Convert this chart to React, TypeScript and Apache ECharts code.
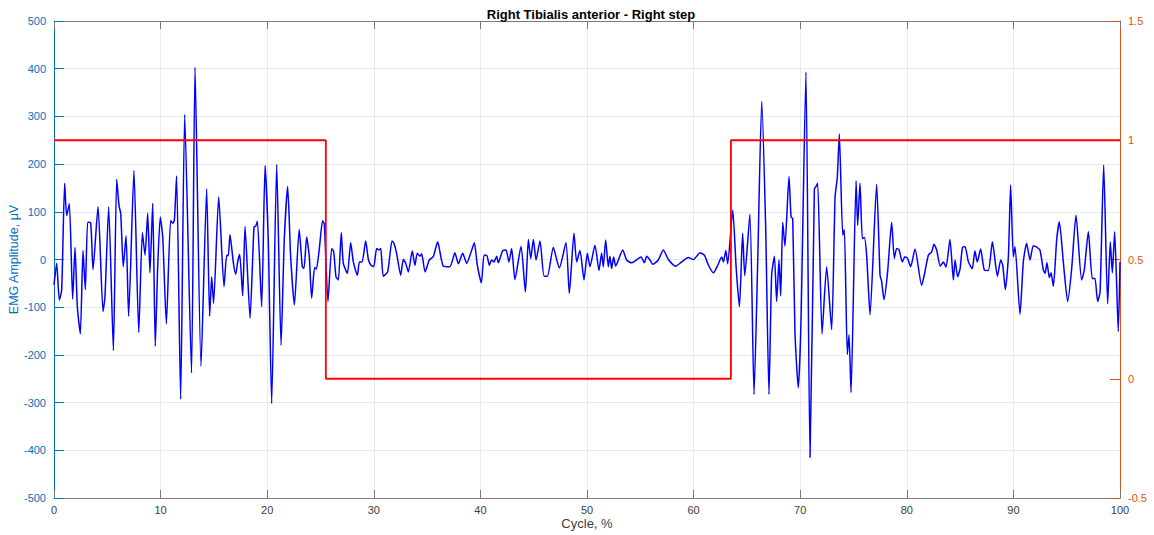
import React, { useEffect, useRef } from "react";
import * as echarts from "echarts";

// EMG trace: [cycle %, amplitude µV]
const emgSamples: [number, number][] = [
  [0, -53], [0.25, -8], [0.5, -85], [0.72, -64], [1.0, 160], [1.19, 92], [1.44, 117], [1.75, -83], [1.97, 25],
  [2.19, -99], [2.47, -156], [2.72, 19], [2.94, -63], [3.16, 78], [3.44, 77], [3.66, -21], [4.13, 111], [4.6, -109],
  [4.78, -78], [5.13, 110], [5.57, -191], [5.88, 168], [6.1, 113], [6.26, 96], [6.5, -15], [6.76, 50], [7.0, -119],
  [7.5, 186], [7.95, -153], [8.29, 56], [8.54, 9], [8.79, 97], [9.0, -28], [9.26, 118], [9.5, -182], [9.73, -14],
  [9.97, 89], [10.2, 47], [10.54, -135], [10.94, 82], [11.13, 76], [11.29, 82], [11.5, 175], [11.88, -293],
  [12.26, 304], [12.9, -238], [13.23, 403],
  [13.79, -224], [14.32, 148], [14.6, -119], [14.79, -36], [14.97, -92], [15.45, 131], [15.95, -57], [16.2, 9],
  [16.35, 8], [16.51, 52], [16.82, -6], [17.05, -31], [17.23, -5], [17.42, 11], [17.7, -76], [17.92, 69],
  [18.39, -123], [18.76, 68], [18.92, 70], [19.08, 80], [19.48, -99], [19.8, 197], [20.1, 39], [20.42, -302],
  [20.89, 199], [21.3, -180], [21.6, 40], [21.92, 153], [22.2, 6], [22.55, -95], [23.0, 63], [23.29, -15],
  [23.45, -19], [23.7, 47], [23.95, 6], [24.17, -81], [24.45, -17], [24.61, -20], [24.89, 23], [25.2, 81],
  [25.36, 74], [25.7, -88], [26.05, 23], [26.24, 16], [26.45, -36], [26.67, -43], [26.95, 56],
  [27.14, -8], [27.52, -29], [27.83, 35], [28.08, -5], [28.46, -33], [28.65, -5], [28.9, -5], [29.24, 39],
  [29.49, 0], [29.74, -12], [29.99, -15], [30.27, 23], [30.49, 20], [30.65, 23], [30.89, -35], [31.3, -26],
  [31.71, 39], [31.89, 34], [32.14, 13], [32.52, -33], [32.77, 0], [32.99, -8], [33.24, -26], [33.61, 18],
  [33.86, -12], [34.08, 13], [34.33, 7], [34.49, 12], [34.81, -26], [35.21, -1], [35.58, 6], [35.99, 37],
  [36.52, -14], [37.14, -15], [37.61, 14], [37.93, -9], [38.34, 13], [38.71, -8], [39.12, 15], [39.43, 35],
  [39.71, -12], [40.09, -49], [40.34, 9], [40.59, 9], [40.84, -12], [41.05, -1], [41.27, -5], [41.53, 7],
  [41.68, -7], [42.08, 18], [42.4, 20], [42.68, -5], [42.93, 23], [43.24, -42], [43.81, 28], [44.22, -68],
  [44.5, 42], [44.72, 2], [44.97, 42], [45.22, -1], [45.59, 39], [45.97, -35], [46.28, -35], [46.84, 25],
  [47.4, -18], [48.03, 35], [48.34, -71], [48.78, 55], [49.03, -5], [49.34, 19], [49.72, -43], [50.03, 13],
  [50.28, -15], [50.75, 30], [51.12, -23], [51.37, 13], [51.53, -15], [51.75, 41], [52.0, -15], [52.15, 7],
  [52.31, -19], [52.5, 5], [52.69, -14], [52.88, -5], [53.35, 20], [53.72, -1], [54.19, -7], [54.57, -2],
  [55.07, 5], [55.38, -7], [55.6, 7], [55.91, -1], [56.16, -10], [56.69, -1], [57.16, 20], [57.63, 0],
  [58.32, -14], [58.88, -5], [59.51, 4], [59.98, 0], [60.61, 14], [61.01, 9], [61.39, -12], [61.86, -28],
  [62.23, -14], [62.64, 5], [62.8, -5], [63.02, 19], [63.2, -9], [63.67, 104], [64.0, -20], [64.3, -99],
  [64.6, 55], [64.8, -34], [65.28, 95],
  [65.67, -283], [66.01, -8], [66.39, 332], [66.76, 68], [67.07, -283], [67.32, -33], [67.58, 7], [67.79, -88],
  [68.01, -1], [68.17, -76], [68.36, 78], [68.57, 28], [68.95, 174], [69.14, 90], [69.3, 85], [69.51, -154],
  [69.82, -269], [70.07, -133], [70.54, 393], [70.92, -415], [71.33, 148], [71.48, 153], [71.64, 160],
  [72.05, -156], [72.48, -15], [72.95, -147], [73.27, 131], [73.48, 172], [73.67, 263], [73.99, 51], [74.14, 63],
  [74.42, -199], [74.58, -158], [74.77, -279], [75.24, 165], [75.39, 72], [75.61, 160], [75.83, 44], [76.02, 46],
  [76.24, 6],
  [76.55, -116], [77.17, 158], [77.49, -33], [77.64, -46], [77.86, -84], [78.2, -26], [78.58, 78], [78.83, 2],
  [79.05, 23], [79.27, 21], [79.58, -5], [79.83, 6], [80.08, 2], [80.36, -15], [80.77, 22], [81.39, -54],
  [81.64, -33], [82.02, 9], [82.33, 16], [82.55, 32], [82.8, 20], [83.14, -14], [83.43, -5], [83.68, -16],
  [84.05, 42], [84.37, -43], [84.53, -1], [84.77, -36], [85.0, -19], [85.22, 25], [85.46, 27], [85.78, -5],
  [86.14, -19], [86.39, 18], [86.61, -5], [86.93, 22], [87.27, -22], [87.65, -23], [88.03, 37], [88.5, -35],
  [88.81, -1], [89.0, -12], [89.24, -63], [89.53, 6], [89.74, 156],
  [89.99, 6], [90.15, 27], [90.62, -115], [90.93, -5], [91.24, 34], [91.56, -1], [91.87, 29], [92.18, 26],
  [92.49, 20], [92.81, -22], [92.97, -29], [93.15, -7], [93.37, -38], [93.53, -28], [93.75, -56], [94.06, 41],
  [94.31, 79], [94.69, -7], [95.09, -88], [95.46, -21], [95.87, 93], [96.4, -43], [96.65, -22], [97.03, 58],
  [97.4, -40], [97.65, -40], [97.9, -88], [98.13, -68], [98.47, 198], [98.84, -93], [99.09, 37], [99.28, -28],
  [99.5, 58], [99.84, -151], [100, -5],
];

// Step/stance indicator on the right axis: [cycle %, state]
const stepState: [number, number][] = [
  [0, 1], [25.5, 1], [25.5, 0], [63.5, 0], [63.5, 1], [100, 1],
];

const titleText = "Right Tibialis anterior - Right step";
const xAxisName = "Cycle, %";
const leftAxisName = "EMG Amplitude, \u03BCV";

const FONT = "Liberation Sans, Arial, Helvetica, sans-serif";
const LEFT_COLOR = "#0072BD";
const RIGHT_COLOR = "#D95319";
const DARK = "#404040";
const FRAME = "#7a7a7a";
const GRID_COLOR = "#e6e9ee";

export default function App() {
  const ref = useRef<HTMLDivElement>(null);

  useEffect(() => {
    if (!ref.current) return;
    const chart = echarts.init(ref.current, undefined, { renderer: "svg" });
    chart.setOption({
      animation: false,
      backgroundColor: "#ffffff",
      textStyle: { fontFamily: FONT },
      title: {
        text: titleText,
        left: 586,
        textAlign: "center",
        top: 3,
        textStyle: { fontFamily: FONT, fontSize: 13, fontWeight: "bold", color: "#000" },
      },
      grid: {
        left: 54,
        right: 34,
        top: 21,
        bottom: 37,
        containLabel: false,
        outerBoundsMode: "none",
      },
      xAxis: [
        {
          type: "value",
          min: 0,
          max: 100,
          interval: 10,
          position: "bottom",
          name: xAxisName,
          nameLocation: "middle",
          nameGap: 19,
          nameMoveOverlap: false,
          nameTextStyle: { fontFamily: FONT, fontSize: 13, color: DARK },
          axisLine: { show: true, onZero: false, lineStyle: { color: FRAME, width: 1 } },
          axisTick: { show: true, inside: true, length: 8, lineStyle: { color: FRAME } },
          axisLabel: { fontFamily: FONT, fontSize: 11, color: DARK, margin: 6 },
          splitLine: { show: true, lineStyle: { color: GRID_COLOR, width: 1 } },
        },
        {
          type: "value",
          min: 0,
          max: 100,
          interval: 10,
          position: "top",
          axisLine: { show: true, onZero: false, lineStyle: { color: FRAME, width: 1 } },
          axisTick: { show: true, inside: true, length: 8, lineStyle: { color: FRAME } },
          axisLabel: { show: false },
          splitLine: { show: false },
        },
      ],
      yAxis: [
        {
          type: "value",
          min: -500,
          max: 500,
          interval: 100,
          position: "left",
          name: leftAxisName,
          nameLocation: "middle",
          nameGap: 34,
          nameMoveOverlap: false,
          nameTextStyle: { fontFamily: FONT, fontSize: 12.5, color: LEFT_COLOR },
          axisLine: { show: true, onZero: false, lineStyle: { color: LEFT_COLOR, width: 1 } },
          axisTick: { show: true, inside: true, length: 10, lineStyle: { color: LEFT_COLOR } },
          axisLabel: { fontFamily: FONT, fontSize: 11, color: LEFT_COLOR, margin: 8 },
          splitLine: { show: true, lineStyle: { color: GRID_COLOR, width: 1 } },
        },
        {
          type: "value",
          min: -0.5,
          max: 1.5,
          interval: 0.5,
          position: "right",
          axisLine: { show: true, onZero: false, lineStyle: { color: RIGHT_COLOR, width: 1 } },
          axisTick: { show: true, inside: true, length: 10, lineStyle: { color: RIGHT_COLOR } },
          axisLabel: { fontFamily: FONT, fontSize: 11, color: RIGHT_COLOR, margin: 8 },
          splitLine: { show: false },
        },
      ],
      series: [
        {
          name: "EMG",
          type: "line",
          xAxisIndex: 0,
          yAxisIndex: 0,
          data: emgSamples,
          showSymbol: false,
          symbol: "none",
          smooth: 0.2,
          lineStyle: { color: "#0000ff", width: 1.5 },
          z: 3,
        },
        {
          name: "Step",
          type: "line",
          xAxisIndex: 0,
          yAxisIndex: 1,
          data: stepState,
          showSymbol: false,
          symbol: "none",
          lineStyle: { color: "#ff0000", width: 1.8 },
          z: 4,
        },
      ],
    });
    return () => chart.dispose();
  }, []);

  return (
    <div
      ref={ref}
      style={{ position: "absolute", left: 0, top: 0, width: 1154, height: 535 }}
    />
  );
}
